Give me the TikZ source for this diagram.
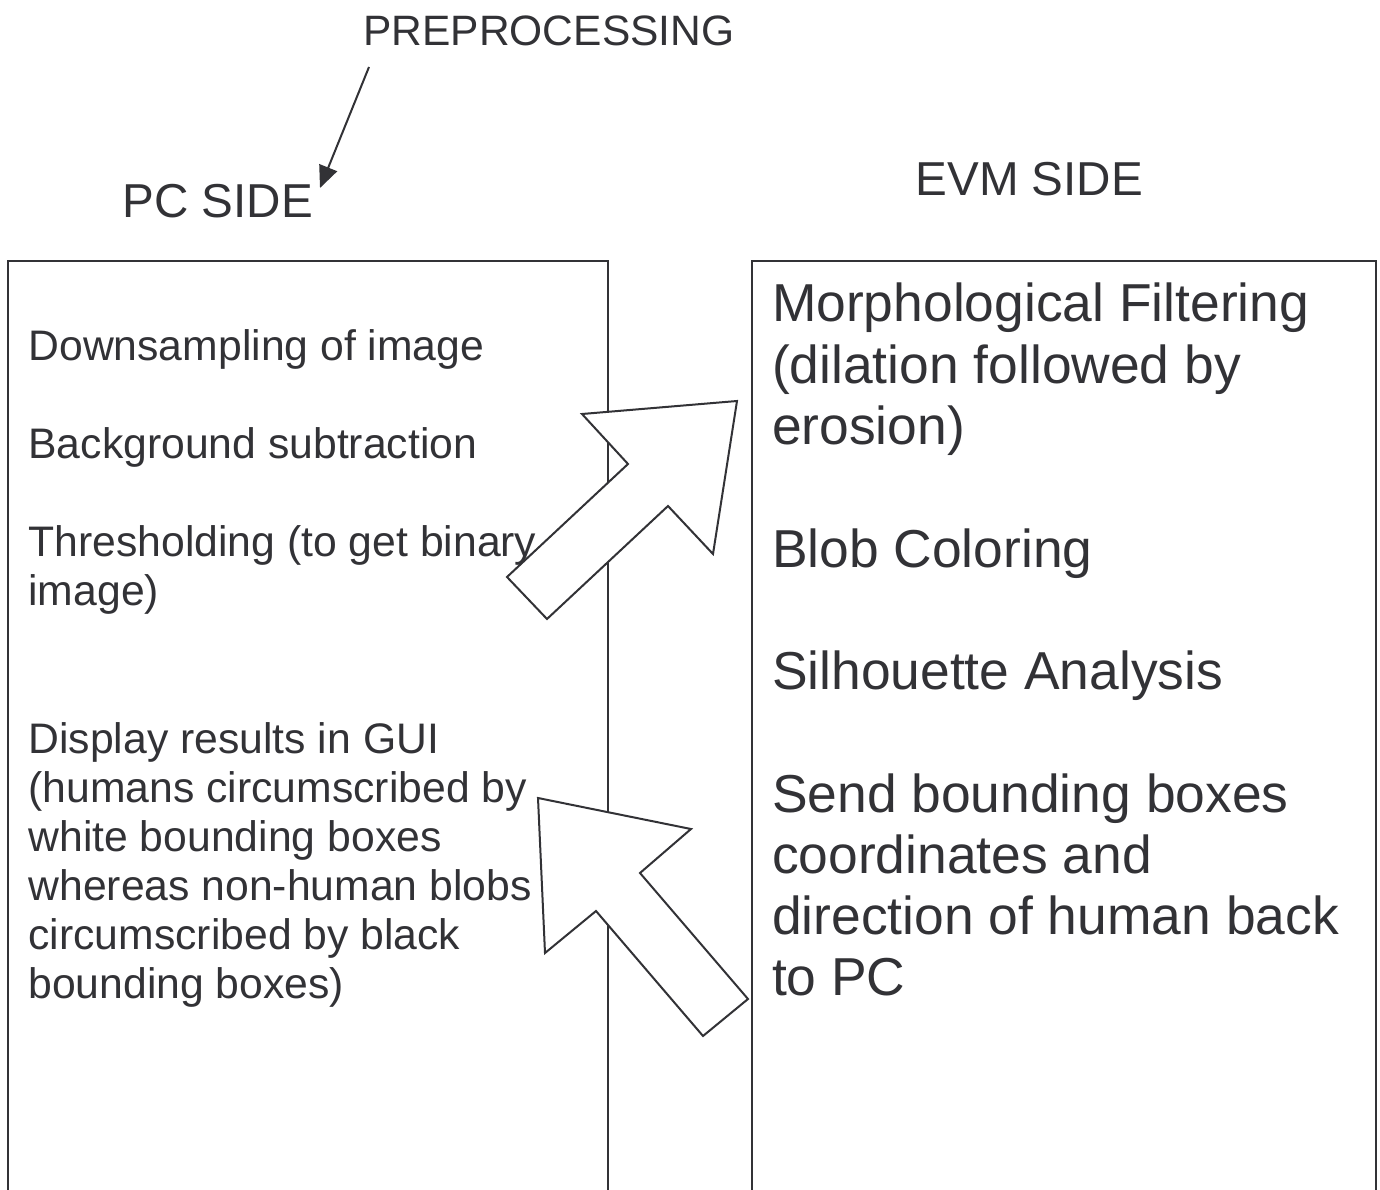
\documentclass[tikz,border=0pt]{standalone}
\usepackage{fontspec}
\setmainfont{Liberation Sans}
\usetikzlibrary{arrows.meta}
\definecolor{ink}{RGB}{50,50,54}
\begin{document}
\begin{tikzpicture}[x=1pt,y=-1pt,
  frame/.style={draw=ink,line width=2pt},
  lbl/.style={inner sep=0pt,outer sep=0pt,anchor=base west,text=ink},
  headtxt/.style={lbl,font=\fontsize{47.6}{54}\selectfont},
  toptxt/.style={lbl,font=\fontsize{42.5}{49}\selectfont},
  pctxt/.style={lbl,font=\fontsize{42.7}{49}\selectfont},
  evmtxt/.style={lbl,font=\fontsize{53.4}{61}\selectfont},
  blockarrow/.style={draw=ink,line width=2pt,fill=white,line join=miter},
  pointer/.style={draw=ink,line width=2pt,-{Triangle[length=22pt,width=19pt]}}]
\useasboundingbox (0,0) rectangle (1380,1190);

% open-bottomed columns
\draw[frame] (8,1190) -- (8,261) -- (608,261) -- (608,1190);
\draw[frame] (752,1190) -- (752,261) -- (1376,261) -- (1376,1190);

% block arrows between the columns
\draw[blockarrow] (737,401) -- (582,414) -- (628,464) -- (507,577)
  -- (547,619) -- (668,506) -- (713,554) -- cycle;
\draw[blockarrow] (538,798) -- (691,829) -- (640,873) -- (748,999)
  -- (703,1036) -- (596,911) -- (545,953) -- cycle;

% headings
\node[toptxt] (pre) at (363.5,46) {PREPROCESSING};
\node[headtxt] (pc) at (122.5,218) {PC SIDE};
\node[headtxt] (evm) at (915.5,196) {EVM SIDE};

\coordinate (preStart) at (369,67);
\coordinate (preTip) at (320,188);
\draw[pointer] (preStart) -- (preTip);

% PC side steps
\node[pctxt] (pc1) at (28.5,360) {Downsampling of image};
\node[pctxt] (pc2) at (28.5,458) {Background subtraction};
\node[pctxt] (pc3a) at (28.5,556) {Thresholding (to get binary};
\node[pctxt] (pc3b) at (28.5,605) {image)};
\node[pctxt] (pc4a) at (28.5,753) {Display results in GUI};
\node[pctxt] (pc4b) at (28.5,802) {(humans circumscribed by};
\node[pctxt] (pc4c) at (28.5,851) {white bounding boxes};
\node[pctxt] (pc4d) at (28.5,900) {whereas non-human blobs};
\node[pctxt] (pc4e) at (28.5,949) {circumscribed by black};
\node[pctxt] (pc4f) at (28.5,998) {bounding boxes)};

% EVM side steps
\node[evmtxt] (ev1a) at (772,321) {Morphological Filtering};
\node[evmtxt] (ev1b) at (772,383) {(dilation followed by};
\node[evmtxt] (ev1c) at (772,444) {erosion)};
\node[evmtxt] (ev2) at (772,567) {Blob Coloring};
\node[evmtxt] (ev3) at (772,689) {Silhouette Analysis};
\node[evmtxt] (ev4a) at (772,812) {Send bounding boxes};
\node[evmtxt] (ev4b) at (772,873) {coordinates and};
\node[evmtxt] (ev4c) at (772,934) {direction of human back};
\node[evmtxt] (ev4d) at (772,995) {to PC};
\end{tikzpicture}
\end{document}
